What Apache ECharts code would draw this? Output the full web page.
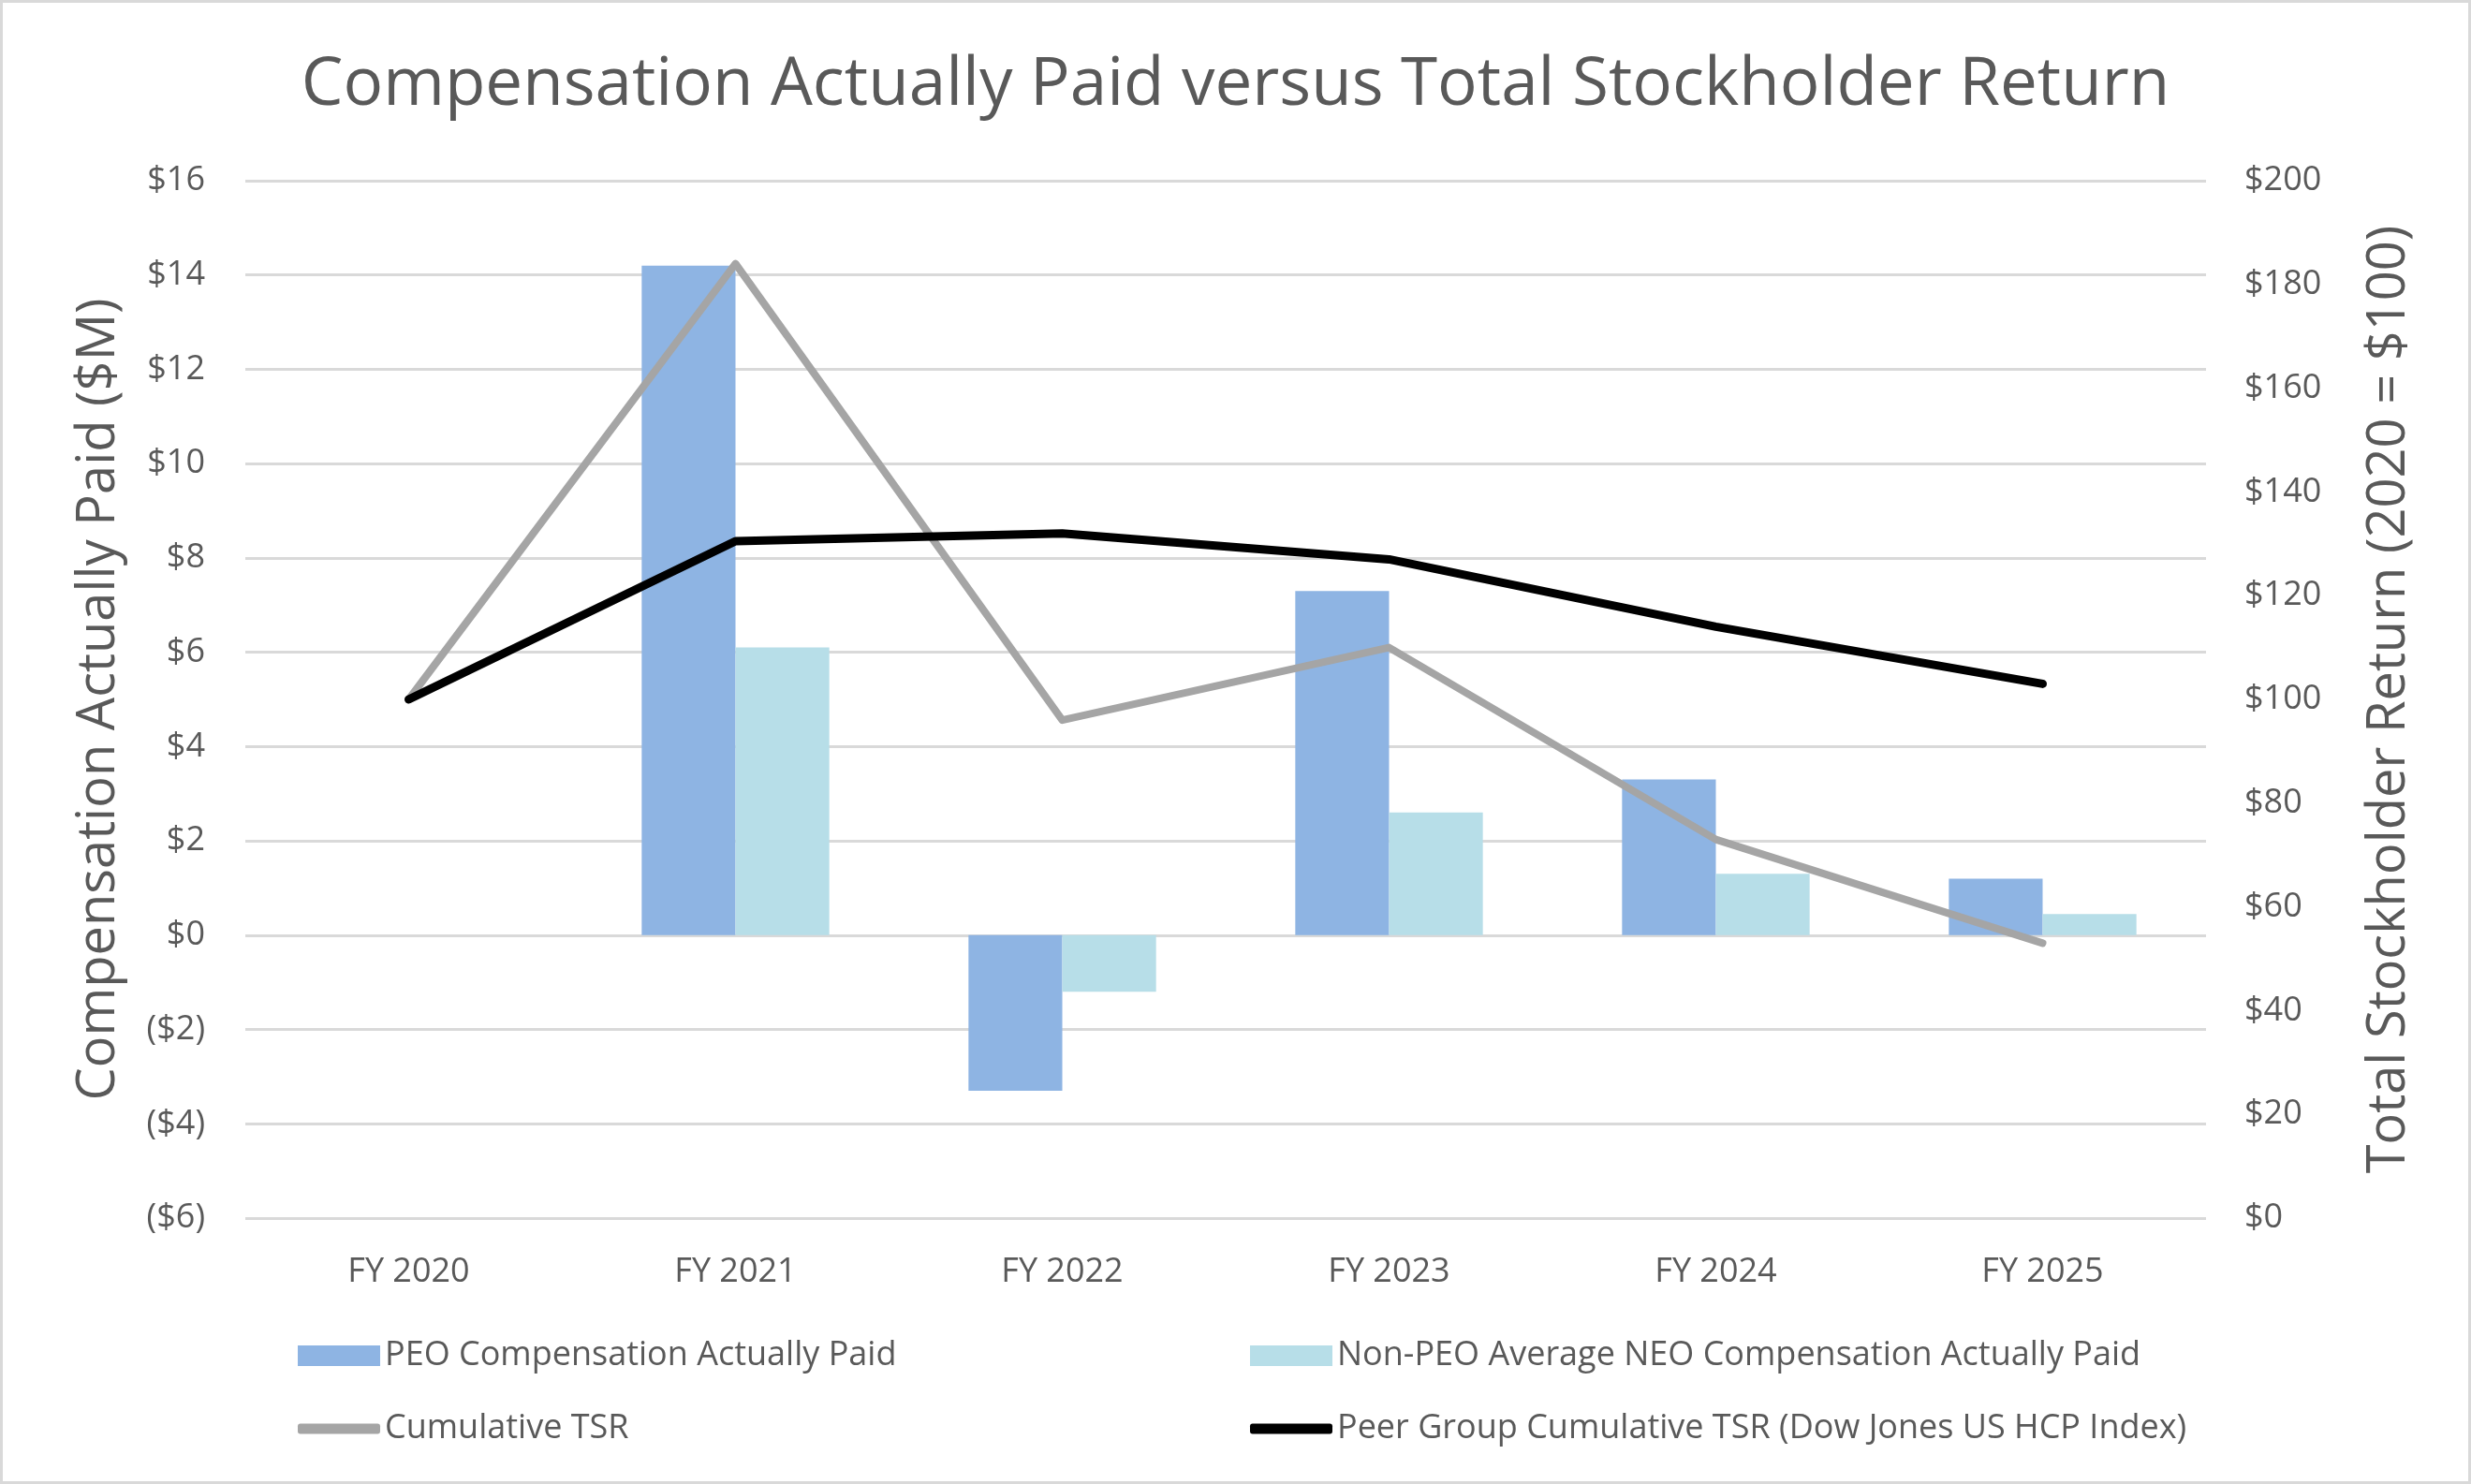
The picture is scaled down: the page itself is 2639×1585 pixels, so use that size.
<!DOCTYPE html>
<html>
<head>
<meta charset="utf-8">
<script src="https://cdn.jsdelivr.net/npm/echarts@6/dist/echarts.min.js"></script>
<style>
  html, body { margin: 0; padding: 0; background: #fff; }
  #chart {
    position: absolute; left: 0; top: 0;
    width: 2639px; height: 1585px;
    box-sizing: border-box;
    border: 3px solid #d9d9d9;
  }
</style>
</head>
<body>
<div id="chart"></div>
<script>
// categories
const years = ["FY 2020", "FY 2021", "FY 2022", "FY 2023", "FY 2024", "FY 2025"];
// compensation actually paid ($M)
const peoCap = [null, 14.2, -3.3, 7.3, 3.3, 1.2];
const neoCap = [null, 6.1, -1.2, 2.6, 1.3, 0.45];
// cumulative TSR (2020 = $100)
const tsr = [100, 184, 96, 110, 73, 53];
const peerTsr = [100, 130.5, 132, 127, 114, 103];

const txt = "#595959";
const font = "Open Sans";

const chart = echarts.init(document.getElementById("chart"));

function legendItem(name, left, top, icon, h) {
  return {
    data: [{ name: name, icon: icon }],
    left: left,
    top: top,
    itemWidth: 88,
    itemHeight: h,
    itemGap: 0,
    textStyle: { color: txt, fontSize: 36, fontFamily: font },
  };
}

const option = {
  backgroundColor: "#fff",
  title: {
    text: "Compensation Actually Paid versus Total Stockholder Return",
    left: "center",
    top: 48,
    textStyle: { color: txt, fontSize: 71, fontWeight: "normal", fontFamily: font },
  },
  legend: [
    legendItem("PEO Compensation Actually Paid", 310, 1422, "rect", 22),
    legendItem("Non-PEO Average NEO Compensation Actually Paid", 1327, 1422, "rect", 22),
    legendItem("Cumulative TSR", 310, 1500, "roundRect", 11),
    legendItem("Peer Group Cumulative TSR (Dow Jones US HCP Index)", 1327, 1500, "roundRect", 11),
  ],
  grid: { left: 259, right: 280, top: 190, bottom: 281 },
  xAxis: {
    type: "category",
    data: years,
    axisLine: { show: false },
    axisTick: { show: false },
    axisLabel: { color: txt, fontSize: 36, fontFamily: font, margin: 40 },
  },
  yAxis: [
    {
      type: "value",
      min: -6,
      max: 16,
      interval: 2,
      name: "Compensation Actually Paid ($M)",
      nameLocation: "middle",
      nameRotate: 90,
      nameGap: 128,
      nameTextStyle: { color: txt, fontSize: 56, fontFamily: font },
      axisLine: { show: false },
      axisTick: { show: false },
      axisLabel: {
        color: txt, fontSize: 36, fontFamily: font, margin: 43,
        formatter: (v) => (v < 0 ? "($" + Math.abs(v) + ")" : "$" + v),
      },
      splitLine: { lineStyle: { color: "#d9d9d9", width: 3 } },
    },
    {
      type: "value",
      min: 0,
      max: 200,
      interval: 20,
      position: "right",
      name: "Total Stockholder Return (2020 = $100)",
      nameLocation: "middle",
      nameRotate: 90,
      nameGap: 168,
      nameTextStyle: { color: txt, fontSize: 56, fontFamily: font },
      axisLine: { show: false },
      axisTick: { show: false },
      axisLabel: { color: txt, fontSize: 36, fontFamily: font, margin: 41, formatter: "${value}" },
      splitLine: { show: false },
    },
  ],
  series: [
    {
      name: "PEO Compensation Actually Paid",
      type: "bar",
      data: peoCap,
      barGap: "0%",
      barCategoryGap: "42.6%",
      itemStyle: { color: "#8eb4e3" },
    },
    {
      name: "Non-PEO Average NEO Compensation Actually Paid",
      type: "bar",
      data: neoCap,
      itemStyle: { color: "#b7dee8" },
    },
    {
      name: "Cumulative TSR",
      type: "line",
      yAxisIndex: 1,
      data: tsr,
      symbol: "none",
      lineStyle: { color: "#a5a5a5", width: 8, cap: "round", join: "round" },
      itemStyle: { color: "#a5a5a5" },
    },
    {
      name: "Peer Group Cumulative TSR (Dow Jones US HCP Index)",
      type: "line",
      yAxisIndex: 1,
      data: peerTsr,
      symbol: "none",
      lineStyle: { color: "#000", width: 9, cap: "round", join: "round" },
      itemStyle: { color: "#000" },
    },
  ],
};

chart.setOption(option);
</script>
</body>
</html>
